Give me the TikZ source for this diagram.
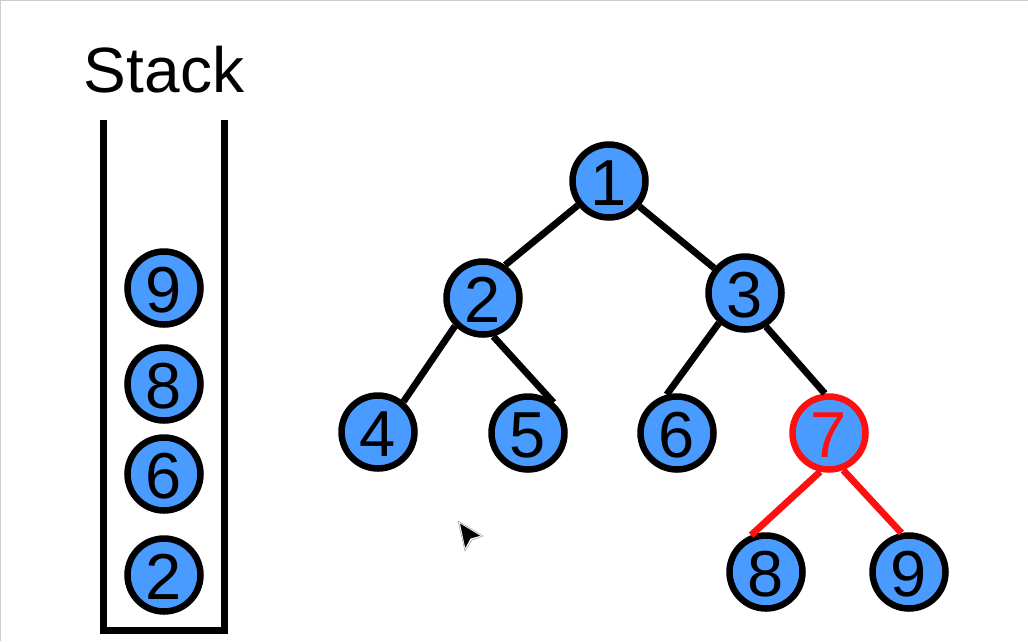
\documentclass[tikz,border=0pt]{standalone}
\usepackage{fontspec}
\setmainfont{Liberation Sans}
\definecolor{nodeblue}{HTML}{4A9BFF}
\definecolor{hotred}{HTML}{FF1010}
\definecolor{framegray}{HTML}{CCCCCC}
\tikzset{
  vertex/.style={circle,draw=black,fill=nodeblue,line width=6.5pt,minimum size=73pt,inner sep=0pt,text=black,text height=49.5pt,text depth=0pt,font=\fontsize{65}{65}\selectfont},
  hotvertex/.style={vertex,draw=hotred,text=hotred},
  edge/.style={draw=black,line width=6.8pt},
  hotedge/.style={draw=hotred,line width=6.8pt},
  wall/.style={draw=black,line width=7pt,line join=miter}
}
\begin{document}
\begin{tikzpicture}[x=1pt,y=-1pt]
\useasboundingbox (0,0) rectangle (1028,641);
\draw[framegray,line width=2pt] (0,641) -- (0,0) -- (1028,0);
\node[anchor=center,font=\fontsize{64}{64}\selectfont] (title) at (164,70) {Stack};
\draw[wall] (103.5,120) -- (103.5,630) -- (224.5,630) -- (224.5,120);
\node[vertex] (s9) at (164,288) {9};
\node[vertex] (s8) at (164,384) {8};
\node[vertex] (s6) at (164,474) {6};
\node[vertex] (s2) at (164,575) {2};
\node[vertex] (n1) at (609,181) {1};
\node[vertex] (n2) at (483,298) {2};
\node[vertex] (n3) at (745,293) {3};
\node[vertex] (n4) at (378,432) {4};
\node[vertex] (n5) at (528,433) {5};
\node[vertex] (n6) at (677,433) {6};
\node[hotvertex] (n7) at (829,433) {7};
\node[vertex] (n8) at (766,572) {8};
\node[vertex] (n9) at (909,572) {9};
\draw[edge] (n1.218) -- (n2.56);
\draw[edge] (n1.320) -- (n3.141);
\draw[edge] (n2.225) -- (n4.50);
\draw[edge] (n2.285) -- (n5.50);
\draw[edge] (n3.229) -- (n6.105);
\draw[edge] (n3.302) -- (n7.96);
\draw[hotedge] (n7.257) -- (n8.112);
\draw[hotedge] (n7.291) -- (n9.101);
\fill[black,draw=white,line width=1.2pt,line join=round] (459,522) -- (482,536) -- (471,539) -- (465,550) -- cycle;
\draw[black!40,line width=0.5pt,line join=round] (458,521) -- (483,536) -- (472,540) -- (465,551) -- cycle;
\end{tikzpicture}
\end{document}
